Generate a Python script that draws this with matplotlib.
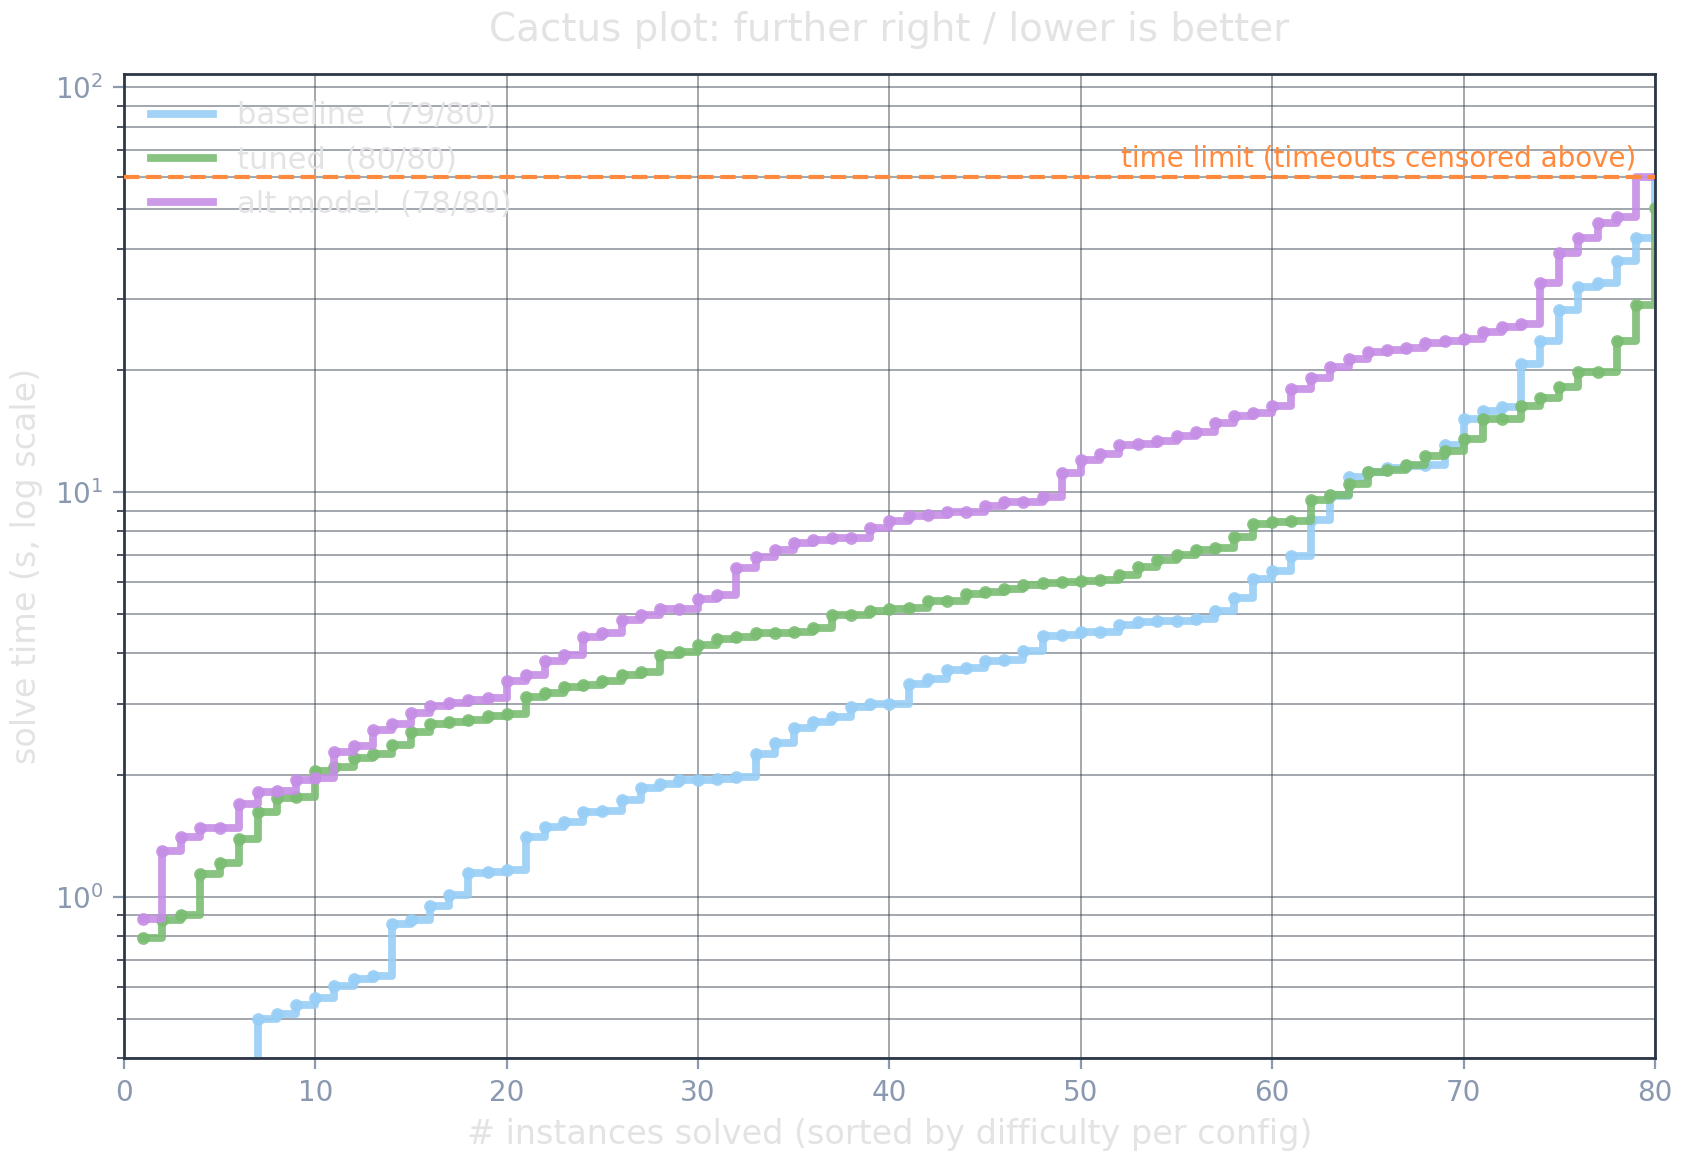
import numpy as np
import matplotlib
matplotlib.use("Agg")
import matplotlib.pyplot as plt

# solve times (s), sorted per config; timeouts censored at the time limit
TIME_LIMIT = 60.0
N_INSTANCES = 80

baseline = [0.12, 0.18, 0.22, 0.27, 0.31, 0.36, 0.50, 0.515, 0.542, 0.563,
            0.602, 0.626, 0.638, 0.859, 0.876, 0.95, 1.01, 1.146, 1.15, 1.168,
            1.41, 1.49, 1.53, 1.62, 1.63, 1.74, 1.86, 1.90, 1.95, 1.95,
            1.96, 1.98, 2.26, 2.40, 2.61, 2.71, 2.78, 2.94, 2.99, 3.0,
            3.36, 3.46, 3.63, 3.68, 3.82, 3.86, 4.05, 4.41, 4.43, 4.51,
            4.52, 4.70, 4.77, 4.80, 4.81, 4.85, 5.08, 5.48, 6.11, 6.37,
            6.97, 8.54, 9.81, 10.93, 11.24, 11.47, 11.63, 11.66, 13.1, 15.2,
            15.83, 16.2, 20.74, 23.68, 28.2, 32.1, 32.8, 37.3, 42.4]

tuned = [0.79, 0.876, 0.90, 1.14, 1.21, 1.39, 1.62, 1.76, 1.77, 2.05,
         2.09, 2.21, 2.25, 2.38, 2.56, 2.68, 2.71, 2.74, 2.80, 2.83,
         3.12, 3.19, 3.31, 3.33, 3.41, 3.53, 3.59, 3.95, 4.03, 4.20,
         4.34, 4.39, 4.49, 4.49, 4.51, 4.62, 4.96, 4.98, 5.10, 5.15,
         5.18, 5.37, 5.38, 5.60, 5.68, 5.77, 5.91, 5.97, 6.00, 6.03,
         6.07, 6.24, 6.55, 6.81, 7.01, 7.21, 7.29, 7.74, 8.35, 8.43,
         8.51, 9.59, 9.85, 10.48, 11.2, 11.37, 11.68, 12.31, 12.67, 13.5,
         15.17, 15.2, 16.37, 17.1, 18.17, 19.79, 19.85, 23.68, 29.0, 50.5]

alt_model = [0.88, 1.30, 1.41, 1.48, 1.48, 1.70, 1.82, 1.83, 1.95, 1.97,
             2.28, 2.36, 2.58, 2.68, 2.84, 2.97, 3.02, 3.06, 3.10, 3.41,
             3.53, 3.82, 3.95, 4.39, 4.49, 4.84, 4.98, 5.15, 5.15, 5.45,
             5.56, 6.48, 6.90, 7.18, 7.50, 7.64, 7.71, 7.72, 8.16, 8.48,
             8.71, 8.80, 8.92, 8.93, 9.27, 9.45, 9.48, 9.72, 11.16, 12.02,
             12.43, 13.10, 13.12, 13.35, 13.75, 14.11, 14.83, 15.46, 15.67, 16.37,
             17.99, 19.1, 20.35, 21.34, 22.16, 22.46, 22.72, 23.33, 23.68, 23.91,
             24.93, 25.64, 26.04, 32.9, 39.1, 42.4, 46.2, 47.9]

configs = ["baseline", "tuned", "alt model"]
series = [baseline, tuned, alt_model]
colors = ["#98cff6", "#7bbd73", "#c68ee6"]

fig, ax = plt.subplots(figsize=(8.42, 5.815), dpi=200)
fig.subplots_adjust(left=0.0736, right=0.9828, top=0.9364, bottom=0.0903)

grid_c = "#3b4556"
ax.grid(True, which="major", axis="both", color=grid_c, alpha=0.6, lw=0.55)
ax.grid(True, which="minor", axis="y", color=grid_c, alpha=0.6, lw=0.55)
ax.set_axisbelow(True)

for name, vals, c in zip(configs, series, colors):
    solved = np.array(vals)
    n_solved = len(solved)
    # pad timeouts at the limit
    y = np.concatenate([solved, np.full(N_INSTANCES - n_solved, TIME_LIMIT)])
    x = np.arange(1, N_INSTANCES + 1)
    ax.step(x, y, where="post", color=c, lw=2.8, alpha=0.9,
            label=f"{name}  ({n_solved}/{N_INSTANCES})")
    ax.plot(x[:n_solved], solved, "o", color=c, ms=4.6, alpha=0.9, mec="none")

ax.axhline(TIME_LIMIT, color="#ff8a3d", lw=1.5, ls="--", zorder=5)
ax.text(79, TIME_LIMIT * 1.03, "time limit (timeouts censored above)",
        color="#ff8a3d", fontsize=10, ha="right", va="bottom")

ax.set_yscale("log")
ax.set_xlim(0, 80)
ax.set_ylim(0.4, 108)
ax.set_xticks(np.arange(0, 81, 10))

for s in ax.spines.values():
    s.set_color("#2d3748")
    s.set_linewidth(1.0)
ax.tick_params(which="major", colors="#8a99b0", labelsize=10, length=4)
ax.tick_params(which="minor", color="#2d3748", length=2.5)

ax.set_title("Cactus plot: further right / lower is better", color="#e3e3e3",
             fontsize=14, pad=12)
ax.set_xlabel("# instances solved (sorted by difficulty per config)",
              color="#e3e3e3", fontsize=12)
ax.set_ylabel("solve time (s, log scale)", color="#e3e3e3", fontsize=12)

leg = ax.legend(loc="upper left", frameon=False, fontsize=11,
                handlelength=2.0, labelspacing=0.5)
for t in leg.get_texts():
    t.set_color("#e3e3e3")

plt.savefig("out.png", dpi=200)
